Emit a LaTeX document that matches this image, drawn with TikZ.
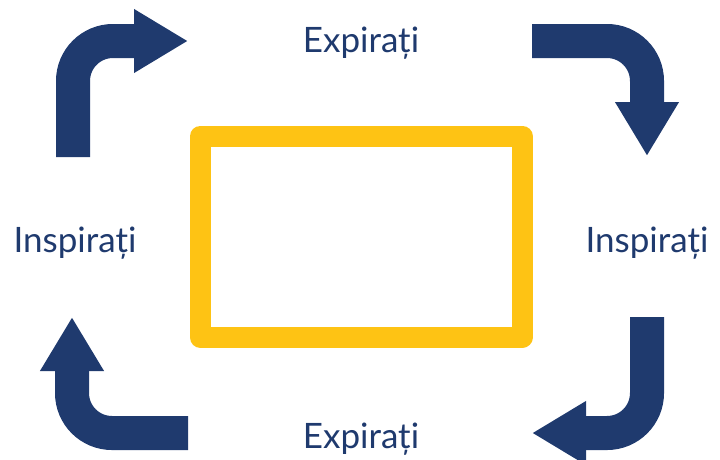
\documentclass[tikz,border=0pt]{standalone}
\usepackage{fontspec}
\setmainfont{Lato}
\usetikzlibrary{arrows.meta}
\definecolor{bluRespiro}{HTML}{1F3A6E}
\definecolor{gialloCornice}{HTML}{FEC314}

\begin{document}
\begin{tikzpicture}[x=1pt,y=-1pt,
freccia/.style={draw=bluRespiro,line width=34pt,rounded corners=40pt,-{Triangle[length=54pt,width=60pt]}},
etichetta/.style={anchor=base,text=bluRespiro,font=\fontsize{35}{35}\selectfont,inner sep=0pt},
cornice/.style={draw=gialloCornice,line width=21pt,line join=round}
]
\useasboundingbox (0,0) rectangle (720,459);
%--
\draw[cornice] (200.5,136) rectangle (522,337.5);
%--
\node[etichetta] (espA) at (361,52){Expirați};
\node[etichetta] (inspB) at (647,252){Inspirați};
\node[etichetta] (espC) at (361,448){Expirați};
\node[etichetta] (inspD) at (75,252){Inspirați};
%--
\coordinate (xa) at (73,157); \coordinate (ya) at (188,41);
\draw[freccia] (xa) |- (ya);
\coordinate (xb) at (532,41); \coordinate (yb) at (647,156);
\draw[freccia] (xb) -| (yb);
\coordinate (xc) at (647,317); \coordinate (yc) at (532,433);
\draw[freccia] (xc) |- (yc);
\coordinate (xd) at (188,433); \coordinate (yd) at (72,317);
\draw[freccia] (xd) -| (yd);
\end{tikzpicture}
\end{document}
